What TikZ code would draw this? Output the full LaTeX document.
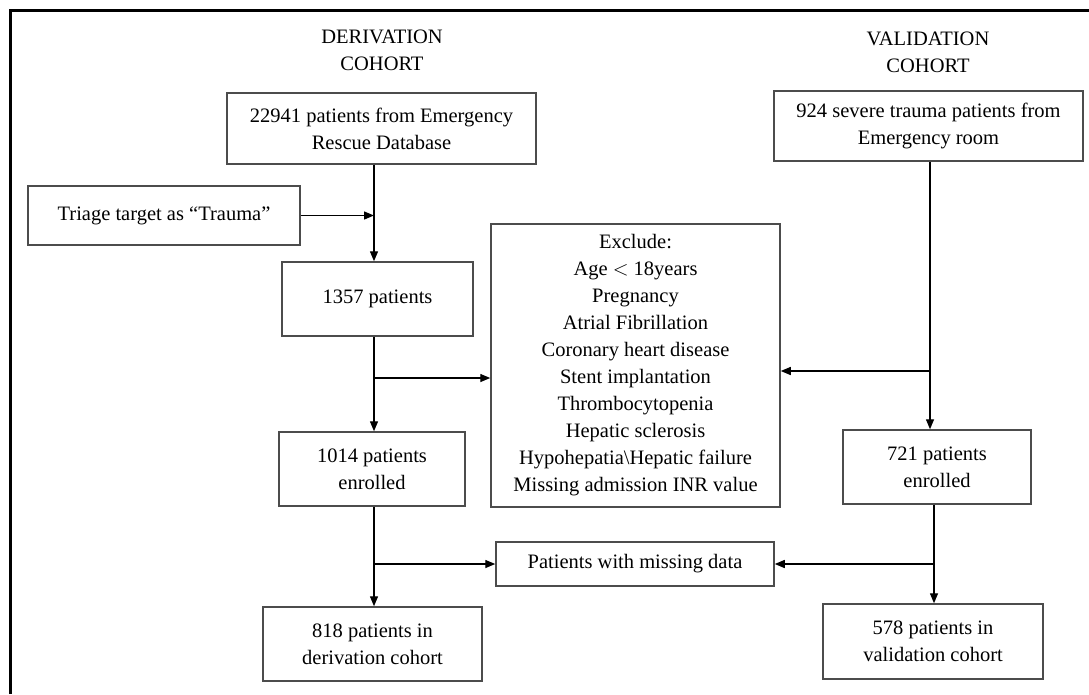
\documentclass[tikz,border=0pt]{standalone}
\usepackage{fontspec}
\setmainfont{Liberation Serif}
\usepackage{tikz}
\usetikzlibrary{arrows.meta,positioning}

\begin{document}
\begin{tikzpicture}[x=1pt,y=-1pt,
    txt/.style={font=\fontsize{20.5pt}{27pt}\selectfont, align=center},
    box/.style={txt, draw=black!70, line width=1.5pt, inner sep=4pt},
    arr/.style={-{Triangle[length=10pt,width=8pt]}, line width=1.4pt}]
    \useasboundingbox (0,0) rectangle (1089,694);
    \draw[line width=3pt] (10,694) -- (10,10) -- (1089,10);

    % column heads
    \node[txt] (HD) at (382,50) {DERIVATION\\COHORT};
    \node[txt] (HV) at (928,52) {VALIDATION\\COHORT};

    % derivation side
    \node[box, minimum width=309pt, minimum height=71pt] (D1) at (381.5,128.5) {22941 patients from Emergency\\Rescue Database};
    \node[box, minimum width=272pt, minimum height=59pt] (Tr) at (164,215.5) {Triage target as ``Trauma''};
    \node[box, minimum width=191pt, minimum height=74pt] (D2) at (377.5,299) {1357 patients};
    \node[box, minimum width=186pt, minimum height=74pt] (D3) at (372,469) {1014 patients\\enrolled};
    \node[box, minimum width=219pt, minimum height=74pt] (D4) at (372.5,644) {818 patients in\\derivation cohort};

    % middle
    \node[box, minimum width=289pt, minimum height=283pt] (Ex) at (635.5,365.5) {Exclude:\\Age $<$ 18years\\Pregnancy\\Atrial Fibrillation\\Coronary heart disease\\Stent implantation\\Thrombocytopenia\\Hepatic sclerosis\\Hypohepatia\textbackslash Hepatic failure\\Missing admission INR value};
    \node[box, minimum width=278pt, minimum height=44pt] (Mi) at (635,564) {Patients with missing data};

    % validation side
    \node[box, minimum width=309pt, minimum height=70pt] (V1) at (928.5,126) {924 severe trauma patients from\\Emergency room};
    \node[box, minimum width=188pt, minimum height=74pt] (V2) at (937,467) {721 patients\\enrolled};
    \node[box, minimum width=220pt, minimum height=75pt] (V3) at (933,641.5) {578 patients in\\validation cohort};

    \coordinate (LX) at (374,0);
    \coordinate (RX) at (930,0);
    \coordinate (RY) at (934,0);
    \coordinate (B1) at (374,378);
    \coordinate (B3) at (930,371);

    \draw[arr] (D1.south -| LX) -- (D2.north -| LX);
    \draw[arr] (Tr.east) -- (Tr.east -| LX);
    \draw[arr] (D2.south -| LX) -- (D3.north -| LX);
    \draw[arr] (B1) -- (B1 -| Ex.west);
    \draw[arr] (D3.south -| LX) -- (D4.north -| LX);
    \draw[arr] (Mi.west -| LX) -- (Mi.west);

    \draw[arr] (V1.south -| RX) -- (V2.north -| RX);
    \draw[arr] (B3) -- (B3 -| Ex.east);
    \draw[arr] (V2.south -| RY) -- (V3.north -| RY);
    \draw[arr] (Mi.east -| RY) -- (Mi.east);
\end{tikzpicture}
\end{document}
